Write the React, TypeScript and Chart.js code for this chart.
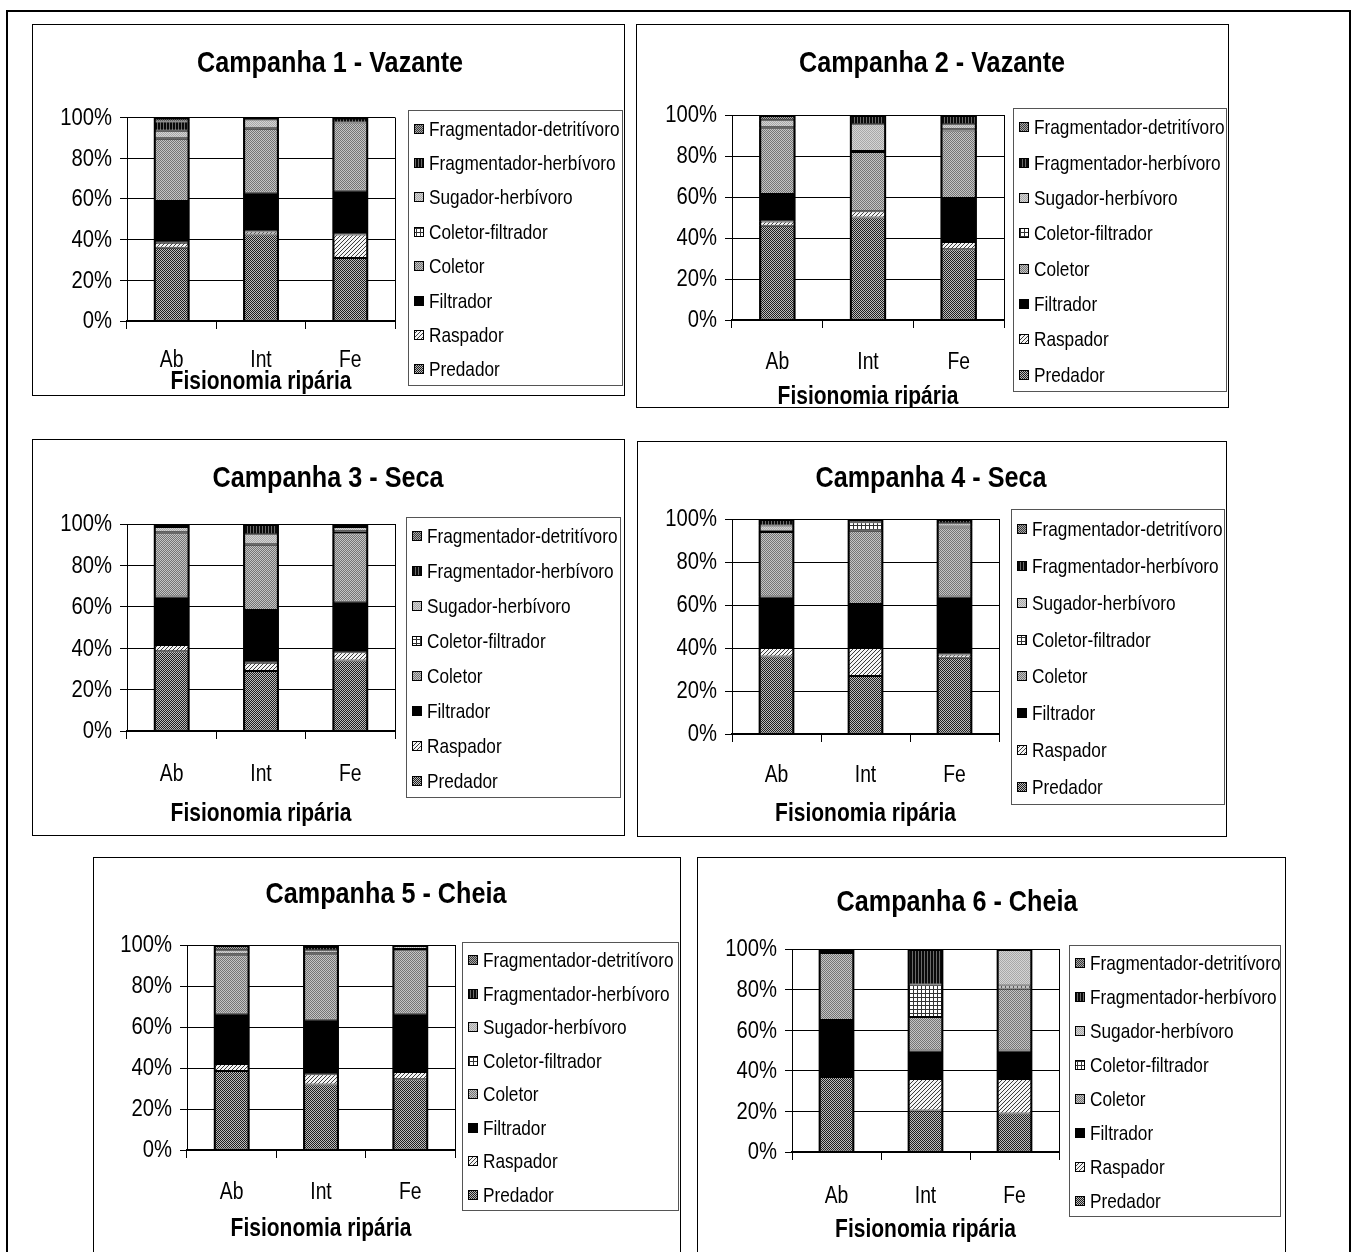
import React, { useEffect, useRef } from 'react';
import { Chart, registerables } from 'chart.js';

Chart.register(...registerables);

// ---- data ----
const categories = ['Ab', 'Int', 'Fe'];
const axisTitle = 'Fisionomia ripária';
const yTicks = [0, 20, 40, 60, 80, 100];

// stacking order, bottom to top
const seriesNames = [
  'Predador',
  'Raspador',
  'Filtrador',
  'Coletor',
  'Coletor-filtrador',
  'Sugador-herbívoro',
  'Fragmentador-herbívoro',
  'Fragmentador-detritívoro',
];

const campaignTitles = [
  'Campanha 1 - Vazante',
  'Campanha 2 - Vazante',
  'Campanha 3 - Seca',
  'Campanha 4 - Seca',
  'Campanha 5 - Cheia',
  'Campanha 6 - Cheia',
];

// % of individuals per feeding group; one row per series, columns Ab / Int / Fe
const campanha1 = [
  [36, 42.5, 31],
  [2.5, 1.5, 11.5],
  [20.5, 19, 21.5],
  [30.5, 31.5, 33.5],
  [0.5, 0.5, 0],
  [3.5, 4, 0],
  [4.5, 1, 2.5],
  [2, 0, 0],
];
const campanha2 = [
  [46, 50, 34.5],
  [2, 3, 3.5],
  [13.5, 0, 21.5],
  [32, 29, 33],
  [0.5, 0.5, 0.5],
  [3.5, 13, 2.5],
  [0, 4.5, 4.5],
  [2.5, 0, 0],
];
const campanha3 = [
  [38.5, 29, 34],
  [3, 4, 4],
  [23.5, 25.5, 24.5],
  [30.5, 31.5, 33],
  [0.5, 0.5, 1],
  [2.5, 4.5, 2],
  [0, 5, 1],
  [1.5, 0, 0.5],
];
const campanha4 = [
  [36, 27, 35.5],
  [4, 13, 1.5],
  [24, 20.5, 27],
  [30, 34, 32],
  [0.5, 4, 0.5],
  [2.5, 1.5, 1.5],
  [3, 0, 2],
  [0, 0, 0],
];
const campanha5 = [
  [38.5, 32, 34.5],
  [3.5, 5, 3.5],
  [24.5, 26.5, 28.5],
  [28.5, 32, 31],
  [0.5, 0.5, 0.5],
  [2, 1.5, 2],
  [0, 1.5, 0],
  [2.5, 1, 0],
];
const campanha6 = [
  [37, 20.5, 19],
  [0, 15.5, 17],
  [28, 14, 14],
  [33, 16.5, 30.5],
  [0.5, 16, 1.5],
  [1.5, 0, 18],
  [0, 17.5, 0],
  [0, 0, 0],
];
const campaignData = [campanha1, campanha2, campanha3, campanha4, campanha5, campanha6];

// ---- page layout (page pixels) ----
type Layout = {
  box: number[];
  plot: number[];
  legend: number[];
  titleX: number;
  titleY: number;
  xTitleY: number;
  labelY: number;
};

const panelLayout: Layout[] = [
  { box: [32, 24, 625, 396], plot: [127, 117.5, 395, 321], legend: [408, 110, 622, 385], titleX: 330, titleY: 72, xTitleY: 389, labelY: 367 },
  { box: [636, 24, 1229, 408], plot: [732, 115, 1004, 320], legend: [1013, 108, 1226, 391], titleX: 932, titleY: 72, xTitleY: 404, labelY: 368.5 },
  { box: [32, 439, 625, 836], plot: [127, 524, 395, 731], legend: [406, 517, 620, 797], titleX: 328, titleY: 487, xTitleY: 821, labelY: 780.5 },
  { box: [637, 441, 1227, 837], plot: [732, 519, 999, 734], legend: [1011, 509, 1224, 804], titleX: 931, titleY: 487, xTitleY: 821, labelY: 781.5 },
  { box: [93, 857, 681, 1270], plot: [187, 945, 455, 1150], legend: [462, 942, 678, 1210], titleX: 386, titleY: 903, xTitleY: 1236, labelY: 1198.5 },
  { box: [697, 857, 1286, 1270], plot: [792, 949, 1059, 1152], legend: [1069, 945, 1280, 1216], titleX: 957, titleY: 911, xTitleY: 1237, labelY: 1202.5 },
];

const FONT = "'Liberation Sans', Arial, sans-serif";

// condensed text: Arial metrics squeezed horizontally
function narrowText(
  c: CanvasRenderingContext2D,
  text: string,
  x: number,
  y: number,
  font: string,
  squeeze: number,
  align: CanvasTextAlign,
  baseline: CanvasTextBaseline,
) {
  c.save();
  c.font = font;
  c.textAlign = align;
  c.textBaseline = baseline;
  c.fillStyle = '#000';
  c.translate(x, y);
  c.scale(squeeze, 1);
  c.fillText(text, 0, 0);
  c.restore();
}

// greyscale fill patterns, one per feeding group
function tile(size: number, paint: (x: number, y: number) => string) {
  const c = document.createElement('canvas');
  c.width = size;
  c.height = size;
  const g = c.getContext('2d')!;
  for (let y = 0; y < size; y++) {
    for (let x = 0; x < size; x++) {
      g.fillStyle = paint(x, y);
      g.fillRect(x, y, 1, 1);
    }
  }
  return c;
}

function makeFills(ctx: CanvasRenderingContext2D): (CanvasPattern | string)[] {
  const pat = (c: HTMLCanvasElement) => ctx.createPattern(c, 'repeat') as CanvasPattern;
  const checker = (a: string, b: string) => tile(2, (x, y) => ((x + y) % 2 === 0 ? a : b));
  return [
    pat(checker('#1e1e1e', '#bcbcbc')), // Predador
    pat(tile(4, (x, y) => ((x + y) % 4 === 3 ? '#3c3c3c' : '#f4f4f4'))), // Raspador
    '#000000', // Filtrador
    pat(checker('#747474', '#c4c4c4')), // Coletor
    pat(tile(4, (x, y) => (x === 0 || y === 0 ? '#333333' : '#ffffff'))), // Coletor-filtrador
    pat(checker('#a8a8a8', '#d4d4d4')), // Sugador-herbívoro
    pat(tile(3, (x) => (x === 2 ? '#6a6a6a' : '#0a0a0a'))), // Fragmentador-herbívoro
    pat(checker('#3a3a3a', '#a8a8a8')), // Fragmentador-detritívoro
  ];
}

function Panel({ index }: { index: number }) {
  const ref = useRef<HTMLCanvasElement>(null);
  const L = panelLayout[index];
  const [bx0, by0, bx1, by1] = L.box;
  const W = bx1 - bx0;
  const H = by1 - by0;

  useEffect(() => {
    const canvas = ref.current!;
    const ctx = canvas.getContext('2d')!;
    const fills = makeFills(ctx);
    const px0 = L.plot[0] - bx0;
    const py0 = L.plot[1] - by0;
    const px1 = L.plot[2] - bx0;
    const py1 = L.plot[3] - by0;
    const yAxisW = 80;
    const xAxisH = 70;

    const decor = {
      id: 'panelDecor',
      afterDatasetsDraw(chart: any) {
        // heavier outline around each whole stacked column
        const c: CanvasRenderingContext2D = chart.ctx;
        const ys = chart.scales.y;
        const first = chart.getDatasetMeta(0).data;
        const metas = chart.data.datasets.map((_: any, d: number) => chart.getDatasetMeta(d).data);
        c.save();
        c.strokeStyle = '#000';
        c.lineWidth = 2;
        first.forEach((bar: any, i: number) => {
          let topY = ys.getPixelForValue(0);
          metas.forEach((els: any[]) => {
            topY = Math.min(topY, els[i].y);
          });
          const bottomY = ys.getPixelForValue(0);
          const left = bar.x - bar.width / 2;
          c.strokeRect(left + 1, topY + 1, bar.width - 2, bottomY - topY - 1);
        });
        c.restore();
      },
      afterDraw(chart: any) {
        const c: CanvasRenderingContext2D = chart.ctx;
        const area = chart.chartArea;
        const xs = chart.scales.x;
        const ys = chart.scales.y;
        c.save();
        // plot-area right edge
        c.strokeStyle = '#000';
        c.lineWidth = 1;
        c.beginPath();
        c.moveTo(Math.round(area.right) + 0.5, area.top);
        c.lineTo(Math.round(area.right) + 0.5, area.bottom);
        c.stroke();

        // panel frame
        c.strokeRect(0.5, 0.5, W - 1, H - 1);
        c.restore();

        // y tick labels
        yTicks.forEach((v) => {
          narrowText(c, `${v}%`, area.left - 15, ys.getPixelForValue(v) + 1, `23px ${FONT}`, 0.88, 'right', 'middle');
        });
        // x tick labels
        categories.forEach((cat, i) => {
          narrowText(c, cat, xs.getPixelForValue(i), L.labelY - by0, `23px ${FONT}`, 0.84, 'center', 'alphabetic');
        });

        // chart title
        narrowText(c, campaignTitles[index], L.titleX - bx0, L.titleY - by0, `bold 30px ${FONT}`, 0.84, 'center', 'alphabetic');

        // x-axis title
        narrowText(c, axisTitle, (area.left + area.right) / 2, L.xTitleY - by0, `bold 25px ${FONT}`, 0.84, 'center', 'alphabetic');

        // legend
        const [lx0, ly0, lx1, ly1] = L.legend;
        const lx = lx0 - bx0;
        const ly = ly0 - by0;
        const lw = lx1 - lx0;
        const lh = ly1 - ly0;
        c.save();
        c.strokeStyle = '#555';
        c.lineWidth = 1;
        c.strokeRect(Math.round(lx) + 0.5, Math.round(ly) + 0.5, lw, lh);
        c.restore();
        const ds = chart.data.datasets.slice().reverse();
        const step = lh / ds.length;
        ds.forEach((d: any, i: number) => {
          const cy = Math.round(ly + step * (i + 0.5) + 1.5);
          c.save();
          c.fillStyle = d.backgroundColor;
          c.fillRect(lx + 6, cy - 5, 10, 10);
          c.strokeStyle = '#000';
          c.lineWidth = 1;
          c.strokeRect(lx + 6.5, cy - 4.5, 9, 9);
          c.restore();
          narrowText(c, d.label, lx + 21, cy + 1, `21px ${FONT}`, 0.82, 'left', 'middle');
        });
      },
    };

    const chart = new Chart(ctx, {
      type: 'bar',
      data: {
        labels: categories,
        datasets: seriesNames.map((name, s) => ({
          label: name,
          data: campaignData[index][s],
          backgroundColor: fills[s] as any,
          borderColor: '#000',
          borderWidth: 1,
          borderSkipped: false,
          categoryPercentage: 1,
          barPercentage: 0.4,
        })),
      },
      options: {
        responsive: false,
        animation: false,
        events: [],
        layout: {
          padding: { left: px0 - yAxisW, top: py0, right: W - px1, bottom: H - py1 - xAxisH },
        },
        plugins: {
          legend: { display: false },
          title: { display: false },
          tooltip: { enabled: false },
        },
        scales: {
          x: {
            stacked: true,
            offset: true,
            grid: { display: true, drawOnChartArea: false, drawTicks: true, tickLength: 8, color: '#000', offset: true },
            border: { display: true, color: '#000', width: 2 },
            ticks: { display: false, autoSkip: false },
            afterFit: (s: any) => {
              s.height = xAxisH;
            },
          },
          y: {
            stacked: true,
            min: 0,
            max: 100,
            afterBuildTicks: (s: any) => {
              s.ticks = yTicks.map((v) => ({ value: v }));
            },
            grid: { color: '#000', tickLength: 7, lineWidth: 1 },
            border: { display: true, color: '#000', width: 1 },
            ticks: { display: false },
            afterFit: (s: any) => {
              s.width = yAxisW;
            },
          },
        },
      },
      plugins: [decor],
    });
    return () => chart.destroy();
  }, [index]);

  return (
    <canvas
      ref={ref}
      width={W}
      height={H}
      style={{ position: 'absolute', left: bx0, top: by0, width: W, height: H, background: '#fff' }}
    />
  );
}

export default function App() {
  return (
    <div
      style={{
        position: 'absolute',
        left: 0,
        top: 0,
        width: 1357,
        height: 1252,
        overflow: 'hidden',
        background: '#fff',
      }}
    >
      <div
        style={{
          position: 'absolute',
          left: 6,
          top: 10,
          width: 1345,
          height: 1300,
          border: '2px solid #000',
          boxSizing: 'border-box',
        }}
      />
      {panelLayout.map((_, i) => (
        <Panel key={i} index={i} />
      ))}
    </div>
  );
}
